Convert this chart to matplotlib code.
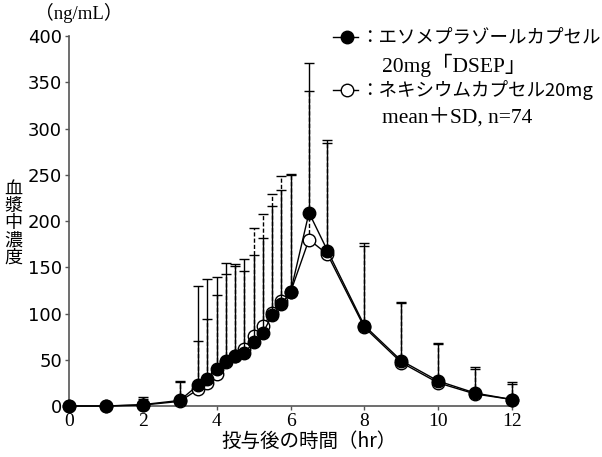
import matplotlib
matplotlib.use('Agg')
import matplotlib.pyplot as plt
from matplotlib.lines import Line2D

# DATA
hours = [0, 1, 2, 3, 3.5, 3.75, 4, 4.25, 4.5, 4.75, 5, 5.25, 5.5, 5.75, 6, 6.5, 7, 8, 9, 10, 11, 12]
dsep_mean = [0, 0, 1.5, 6, 22.7, 29, 40, 48.6, 54, 57, 69, 79, 98, 110, 123, 209, 168, 87, 49, 27, 14, 7]
dsep_upper = [0, 0, 10, 27, 130, 137, 140, 155, 154, 159, 163, 182, 216, 233, 251, 371, 288, 176, 112, 68, 42, 26]
nex_mean = [0, 0, 1, 5, 18, 25, 35, 48, 54, 62, 76, 86, 101, 114, 123, 180, 164, 85, 47, 25, 13, 7]
nex_upper = [0, 0, 8, 26, 70, 94, 120, 143, 151, 146, 192, 208, 229, 249, 250, 341, 284, 173, 111, 67, 40, 24]

xticks = [0, 2, 4, 6, 8, 10, 12]
yticks = [0, 50, 100, 150, 200, 250, 300, 350, 400]

JP = ['Noto Sans CJK JP', 'DejaVu Sans']
SERIF = ['Liberation Serif', 'Noto Sans CJK JP']
MS = 9


def draw_series(ax, mean, upper, face, ls, z):
    sd = [u - m for u, m in zip(upper, mean)]
    eb = ax.errorbar(hours, mean, yerr=[[0] * len(sd), sd], fmt='none', ecolor='black',
                     elinewidth=1, capsize=3.5, capthick=1, clip_on=False, zorder=z)
    for lc in eb[2]:
        lc.set_linestyle(ls)
    ax.plot(hours, mean, '-', color='black', lw=1, marker='o', markersize=MS,
            markerfacecolor=face, markeredgecolor='black', markeredgewidth=1,
            clip_on=False, zorder=z + 1)


def create_plot():
    fig = plt.figure(figsize=(6.02, 4.57), dpi=100)
    ax = fig.add_axes([0.1146, 0.1116, 0.736, 0.8096])

    draw_series(ax, nex_mean, nex_upper, 'white', (0, (3, 1.5)), 2)
    draw_series(ax, dsep_mean, dsep_upper, 'black', '-', 4)

    ax.set_xlim(0, 12)
    ax.set_ylim(0, 400)
    ax.set_xticks(xticks)
    ax.set_yticks(yticks)
    ax.set_xticklabels([str(t) for t in xticks], fontsize=14, family='Liberation Serif')
    ax.set_yticklabels([str(t) for t in yticks], fontsize=13, family='DejaVu Sans')
    ax.tick_params(axis='both', direction='out', length=3, width=1, colors='#555555',
                   labelcolor='black', pad=2)
    for s in ['top', 'right']:
        ax.spines[s].set_visible(False)
    for s in ['left', 'bottom']:
        ax.spines[s].set_color('#555555')
        ax.spines[s].set_linewidth(1.2)

    fig.text(0.058, 0.972, '（ng/mL）', fontsize=13.5, family=SERIF, ha='left', va='center')
    fig.text(0.022, 0.512, '血\n漿\n中\n濃\n度', fontsize=13, family=JP, ha='center',
             va='center', linespacing=0.95)
    fig.text(0.513, 0.033, '投与後の時間（hr）', fontsize=14, family=JP, ha='center', va='center')

    # legend drawn by hand
    for yy, face in [(0.918, 'black'), (0.803, 'white')]:
        fig.add_artist(Line2D([0.553, 0.594], [yy, yy], color='black', lw=1))
        fig.add_artist(Line2D([0.576], [yy], color='black', marker='o', markersize=MS,
                              markerfacecolor=face, markeredgecolor='black', lw=0))
    fig.text(0.598, 0.918, '：エソメプラゾールカプセル', fontsize=13.3, family=JP, va='center')
    fig.text(0.635, 0.858, '20mg「DSEP」', fontsize=15.5, family=SERIF, va='center')
    fig.text(0.598, 0.803, '：ネキシウムカプセル20mg', fontsize=13.3, family=JP, va='center')
    fig.text(0.635, 0.742, 'mean＋SD, n=74', fontsize=15.5, family=SERIF, va='center')

    fig.savefig('out.png', dpi=100)


if __name__ == '__main__':
    create_plot()
